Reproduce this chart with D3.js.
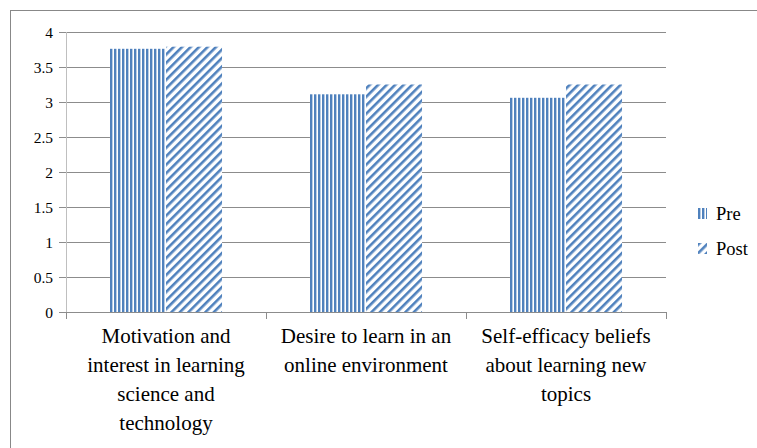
<!DOCTYPE html>
<html>
<head>
<meta charset="utf-8">
<script src="https://cdn.jsdelivr.net/npm/d3@7"></script>
<style>
  body { margin: 0; background: #fff; }
</style>
</head>
<body>
<div id="chart"></div>
<script>
var categories = [
	["Motivation and", "interest in learning", "science and", "technology"],
	["Desire to learn in an", "online environment"],
	["Self-efficacy beliefs", "about learning new", "topics"]
];
var series = ["Pre", "Post"];
var preValues = [3.76, 3.11, 3.06];
var postValues = [3.79, 3.25, 3.25];
var yTicks = [0, 0.5, 1, 1.5, 2, 2.5, 3, 3.5, 4];

var blue = "#4f81bd";
var serif = "'Liberation Serif', 'Times New Roman', serif";

var svg = d3.select("#chart").append("svg")
	.attr("width", 757)
	.attr("height", 448);

// patterns
var defs = svg.append("defs");
var pv = defs.append("pattern")
	.attr("id", "pat-pre")
	.attr("patternUnits", "userSpaceOnUse")
	.attr("width", 4).attr("height", 4);
pv.append("rect").attr("width", 4).attr("height", 4).attr("fill", "#fff");
pv.append("rect").attr("x", 0).attr("width", 2.4).attr("height", 4).attr("fill", blue);

var pd = defs.append("pattern")
	.attr("id", "pat-post")
	.attr("patternUnits", "userSpaceOnUse")
	.attr("width", 6).attr("height", 6)
	.attr("patternTransform", "rotate(45)");
pd.append("rect").attr("width", 6).attr("height", 6).attr("fill", "#fff");
pd.append("rect").attr("x", 0).attr("width", 2.6).attr("height", 6).attr("fill", blue);

// outer border
svg.append("rect")
	.attr("x", 10.5).attr("y", 10.5)
	.attr("width", 760).attr("height", 460)
	.attr("fill", "none")
	.attr("stroke", "#888")
	.attr("stroke-width", 1);

var plotLeft = 66, plotRight = 666, plotTop = 32, plotBottom = 312;

var x = d3.scaleBand()
	.domain(d3.range(categories.length))
	.range([plotLeft, plotRight]);

var xs = d3.scaleBand()
	.domain(series)
	.range([0, x.bandwidth()])
	.paddingOuter(0.785)
	.paddingInner(0);

var y = d3.scaleLinear()
	.domain([0, 4])
	.range([plotBottom, plotTop]);

// gridlines
svg.append("g")
	.selectAll("line")
	.data(yTicks)
	.enter()
	.append("line")
	.attr("x1", plotLeft - 7)
	.attr("x2", plotRight)
	.attr("y1", function(d) { return Math.round(y(d)) + 0.5; })
	.attr("y2", function(d) { return Math.round(y(d)) + 0.5; })
	.attr("stroke", "#8c8c8c")
	.attr("stroke-width", 1);

// y labels
svg.append("g")
	.selectAll("text")
	.data(yTicks)
	.enter()
	.append("text")
	.attr("x", 53)
	.attr("y", function(d) { return y(d) + 5.5; })
	.attr("text-anchor", "end")
	.style("font-family", serif)
	.style("font-size", "15.5px")
	.text(function(d) { return d; });

// bars
var groups = svg.append("g")
	.selectAll("g")
	.data(categories)
	.enter()
	.append("g")
	.attr("transform", function(d, i) { return "translate(" + x(i) + ",0)"; });

groups.append("rect")
	.attr("x", function() { return xs("Pre"); })
	.attr("y", function(d, i) { return y(preValues[i]); })
	.attr("width", xs.bandwidth())
	.attr("height", function(d, i) { return y(0) - y(preValues[i]); })
	.attr("fill", "url(#pat-pre)");

groups.append("rect")
	.attr("x", function() { return xs("Post"); })
	.attr("y", function(d, i) { return y(postValues[i]); })
	.attr("width", xs.bandwidth())
	.attr("height", function(d, i) { return y(0) - y(postValues[i]); })
	.attr("fill", "url(#pat-post)");

// y axis line
svg.append("line")
	.attr("x1", plotLeft + 0.5).attr("x2", plotLeft + 0.5)
	.attr("y1", plotTop).attr("y2", plotBottom + 6)
	.attr("stroke", "#bfbfbf");

// x axis line and ticks
svg.append("line")
	.attr("x1", plotLeft).attr("x2", plotRight)
	.attr("y1", plotBottom + 0.5).attr("y2", plotBottom + 0.5)
	.attr("stroke", "#8c8c8c");

svg.append("g")
	.selectAll("line")
	.data(d3.range(categories.length + 1))
	.enter()
	.append("line")
	.attr("x1", function(d) { return plotLeft + d * x.bandwidth() + 0.5; })
	.attr("x2", function(d) { return plotLeft + d * x.bandwidth() + 0.5; })
	.attr("y1", plotBottom)
	.attr("y2", plotBottom + 7)
	.attr("stroke", "#8c8c8c");

// category labels
svg.append("g")
	.selectAll("text")
	.data(categories)
	.enter()
	.append("text")
	.attr("text-anchor", "middle")
	.style("font-family", serif)
	.style("font-size", "21px")
	.each(function(d, i) {
		d3.select(this).selectAll("tspan")
			.data(d)
			.enter()
			.append("tspan")
			.attr("x", x(i) + x.bandwidth() / 2)
			.attr("y", function(t, j) { return 343 + j * 29; })
			.text(function(t) { return t; });
	});

// legend
var legend = svg.append("g")
	.selectAll("g")
	.data(series)
	.enter()
	.append("g")
	.attr("transform", function(d, i) { return "translate(698," + (208 + i * 35) + ")"; });

legend.append("rect")
	.attr("width", 9)
	.attr("height", 11)
	.attr("fill", function(d) { return d == "Pre" ? "url(#pat-pre)" : "url(#pat-post)"; });

legend.append("text")
	.attr("x", 18)
	.attr("y", 12)
	.style("font-family", serif)
	.style("font-size", "18.5px")
	.text(function(d) { return d; });
</script>
</body>
</html>
